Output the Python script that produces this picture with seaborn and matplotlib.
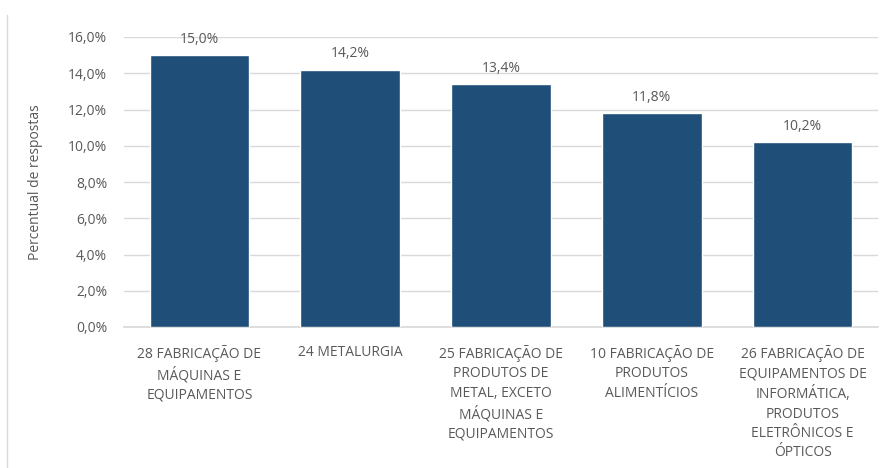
import matplotlib
matplotlib.use("Agg")
import matplotlib.pyplot as plt
import seaborn as sns
import pandas as pd
from matplotlib.ticker import FuncFormatter

categorias = [
    "28 FABRICAÇÃO DE\nMÁQUINAS E\nEQUIPAMENTOS",
    "24 METALURGIA",
    "25 FABRICAÇÃO DE\nPRODUTOS DE\nMETAL, EXCETO\nMÁQUINAS E\nEQUIPAMENTOS",
    "10 FABRICAÇÃO DE\nPRODUTOS\nALIMENTÍCIOS",
    "26 FABRICAÇÃO DE\nEQUIPAMENTOS DE\nINFORMÁTICA,\nPRODUTOS\nELETRÔNICOS E\nÓPTICOS",
]
percentuais = [15.0, 14.2, 13.4, 11.8, 10.2]
rotulos = ["15,0%", "14,2%", "13,4%", "11,8%", "10,2%"]

sns.set_theme(style="white")
plt.rcParams["font.family"] = ["Open Sans", "DejaVu Sans"]

texto = "#595959"
azul = "#1f4e79"
fs = 10

df = pd.DataFrame({"categoria": categorias, "percentual": percentuais})

fig = plt.figure(figsize=(8.85, 4.68), dpi=100)
ax = fig.add_axes([124 / 885, 1 - 327 / 468, (878 - 124) / 885, (327 - 37) / 468])

sns.barplot(data=df, x="categoria", y="percentual", color=azul, width=0.66,
            saturation=1, ax=ax, zorder=3)

ax.set_ylim(0, 16)
ax.set_yticks(range(0, 17, 2))
ax.yaxis.set_major_formatter(FuncFormatter(lambda v, _: f"{v:.1f}%".replace(".", ",")))
ax.grid(axis="y", color="#d9d9d9", linewidth=1, zorder=0)
ax.set_xlabel("")
ax.set_ylabel("Percentual de respostas", color=texto, fontsize=fs, labelpad=18)

for s in ["top", "right", "left"]:
    ax.spines[s].set_visible(False)
ax.spines["bottom"].set_color("#d9d9d9")

ax.tick_params(axis="y", colors=texto, labelsize=fs, length=0, pad=12)
ax.tick_params(axis="x", colors=texto, labelsize=fs, length=0, pad=13)
for lbl in ax.get_xticklabels():
    lbl.set_linespacing(1.4)
    lbl.set_verticalalignment("top")

for patch, rot in zip(ax.patches, rotulos):
    ax.annotate(rot, (patch.get_x() + patch.get_width() / 2, patch.get_height()),
                xytext=(0, 6), textcoords="offset points", ha="center",
                va="bottom", color=texto, fontsize=fs)

# moldura lateral do gráfico
fig.add_artist(plt.Line2D([7 / 885, 7 / 885], [0, 1 - 15 / 468],
                          transform=fig.transFigure, color="#d9d9d9", linewidth=1))

fig.savefig("out.png", dpi=100, facecolor="white")
